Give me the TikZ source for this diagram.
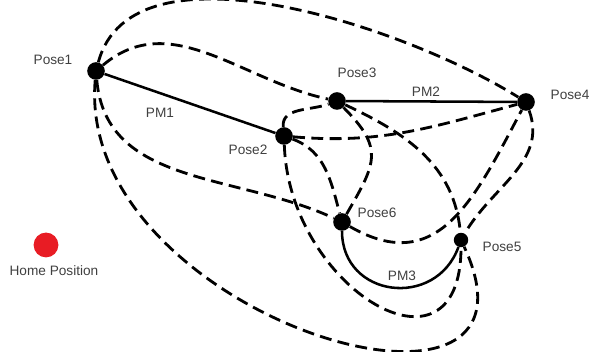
\documentclass[tikz,border=0pt]{standalone}
\usepackage{fontspec}
\setmainfont{Liberation Sans}
\definecolor{homered}{RGB}{232,28,36}

\begin{document}
\begin{tikzpicture}[x=0.025cm, y=0.025cm,
    font=\fontsize{9.7}{11.6}\selectfont,
    pose/.style={circle, fill=black, inner sep=0pt, minimum size=0.44cm},
    pm/.style={line width=1.8pt},
    move/.style={line width=2pt, dash pattern=on 8.5pt off 4.5pt},
    lbl/.style={text=black!75}]
  \useasboundingbox (0,0) rectangle (590,352);

  % robot poses
  \node[pose] (p1) at (96,281) {};
  \node[pose] (p2) at (284,216) {};
  \node[pose] (p3) at (337,251) {};
  \node[pose] (p4) at (526,250) {};
  \node[pose, minimum size=0.36cm] (p5) at (461,112) {};
  \node[pose] (p6) at (342,130) {};
  \node[circle, fill=homered, inner sep=0pt, minimum size=0.62cm] (home) at (46,107) {};

  \node[lbl] (l1) at (53,292) {Pose1};
  \node[lbl] (l2) at (248,202) {Pose2};
  \node[lbl] (l3) at (357,279) {Pose3};
  \node[lbl] (l4) at (570,257) {Pose4};
  \node[lbl] (l5) at (502,105) {Pose5};
  \node[lbl] (l6) at (377,139) {Pose6};
  \node[lbl] (lh) at (54,81) {Home Position};

  % primitive motions
  \draw[pm] (p1) -- (p2);
  \draw[pm] (p3) -- (p4);
  \draw[pm] (p6) to[out=-90, in=-110, looseness=1.45] (p5);
  \node[lbl] (pm1) at (160,239) {PM1};
  \node[lbl] (pm2) at (426,260) {PM2};
  \node[lbl] (pm3) at (402,76) {PM3};

  % free moves between poses
  \draw[move] (p1) to[out=75, in=148, looseness=0.8] (p4);
  \draw[move] (p1) to[out=40, in=168] (p3);
  \draw[move] (p1) to[out=-85, in=155] (p6);
  \draw[move] (p1) to[out=-95, in=-65, looseness=1.5] (p5);
  \draw[move] (p2) to[out=95, in=200] (p3);
  \draw[move] (p2) to[out=-5, in=195] (p4);
  \draw[move] (p2) to[out=-20, in=105] (p6);
  \draw[move] (p2) to[out=-88, in=-90, looseness=1.8] (p5);
  \draw[move] (p3) to[out=-45, in=60, looseness=1.4] (p6);
  \draw[move] (p3) to[out=-25, in=95] (p5);
  \draw[move] (p6) to[out=-30, in=-118, looseness=1.25] (p4);
  \draw[move] (p4) to[out=-70, in=60] (p5);
\end{tikzpicture}
\end{document}
